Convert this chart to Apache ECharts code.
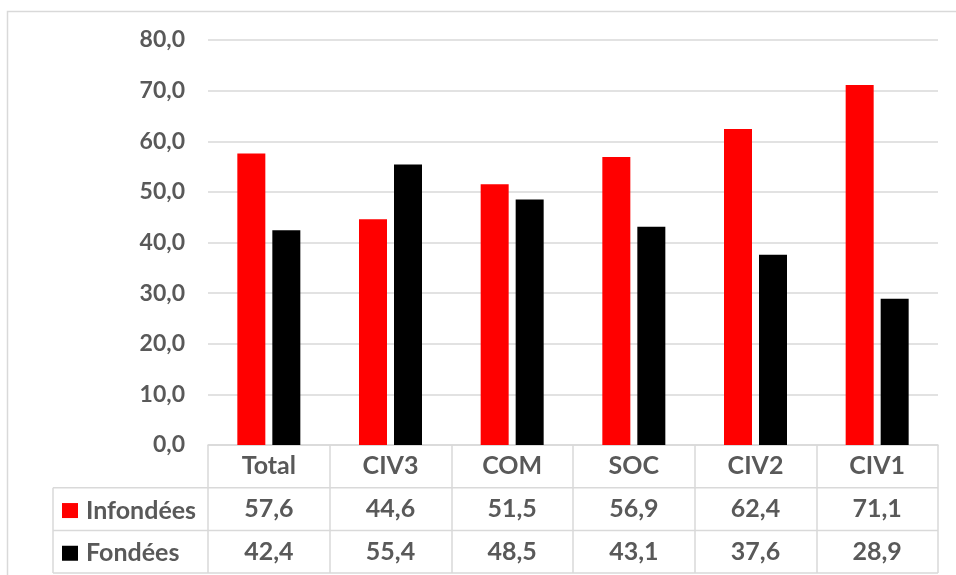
<!DOCTYPE html>
<html>
<head>
<meta charset="utf-8">
<script src="https://cdn.jsdelivr.net/npm/echarts@6/dist/echarts.min.js"></script>
<style>
  html, body { margin: 0; padding: 0; background: #fff; }
  #chart { width: 956px; height: 575px; }
</style>
</head>
<body>
<div id="chart"></div>
<script>
var categories = ['Total', 'CIV3', 'COM', 'SOC', 'CIV2', 'CIV1'];
var infondees = [57.6, 44.6, 51.5, 56.9, 62.4, 71.1];
var fondees = [42.4, 55.4, 48.5, 43.1, 37.6, 28.9];
var yTicks = [0, 10, 20, 30, 40, 50, 60, 70, 80];

var font = 'Lato, "Open Sans", sans-serif';
var textColor = '#595959';
var lineColor = '#d9d9d9';

// plot box, table sits under it
var gridLeft = 208, gridRight = 18, gridTop = 40, gridBottom = 130;
var rowH = 42.7;
var tableLeft = 53;

function fmt(v) {
    return v.toFixed(1).replace('.', ',');
}

var chart = echarts.init(document.getElementById('chart'));

var W = 956, H = 575;
var axisY = H - gridBottom;
var tableRight = W - gridRight;

var graphics = [
    {
        type: 'rect',
        shape: { x: 7.5, y: 11.5, width: 1000, height: 700 },
        style: { fill: 'none', stroke: lineColor, lineWidth: 1.5 },
        silent: true, z: -1
    }
];
for (var r = 1; r <= 3; r++) {
    graphics.push({
        type: 'line',
        shape: { x1: tableLeft, y1: axisY + r * rowH, x2: tableRight, y2: axisY + r * rowH },
        style: { stroke: lineColor, lineWidth: 1.5 },
        silent: true
    });
}
graphics.push({
    type: 'line',
    shape: { x1: tableLeft, y1: axisY + rowH, x2: tableLeft, y2: axisY + 3 * rowH },
    style: { stroke: lineColor, lineWidth: 1.5 },
    silent: true
});

var legendText = { color: textColor, fontFamily: font, fontWeight: 'bold', fontSize: 25, padding: [0, 0, 0, 3] };

var option = {
    animation: false,
    textStyle: { fontFamily: font },
    grid: { left: gridLeft, right: gridRight, top: gridTop, bottom: gridBottom },
    legend: [
        {
            data: ['Infondées'], left: 57, top: axisY + rowH * 1.5 - 16,
            icon: 'rect', itemWidth: 16, itemHeight: 15, textStyle: legendText,
            selectedMode: false
        },
        {
            data: ['Fondées'], left: 57, top: axisY + rowH * 2.5 - 16,
            icon: 'rect', itemWidth: 16, itemHeight: 15, textStyle: legendText,
            selectedMode: false
        }
    ],
    xAxis: {
        type: 'category',
        data: categories,
        axisLine: { lineStyle: { color: lineColor, width: 1.5 } },
        axisTick: { show: true, length: 3 * rowH, interval: 0, lineStyle: { color: lineColor, width: 1.5 } },
        axisLabel: {
            interval: 0,
            margin: 0,
            formatter: function (value, idx) {
                return '{v|' + value + '}\n{v|' + fmt(infondees[idx]) + '}\n{v|' + fmt(fondees[idx]) + '}';
            },
            rich: {
                v: { color: textColor, fontFamily: font, fontWeight: 'bold', fontSize: 25, lineHeight: rowH }
            }
        }
    },
    yAxis: {
        type: 'value',
        min: yTicks[0],
        max: yTicks[yTicks.length - 1],
        interval: 10,
        axisLine: { show: false },
        axisTick: { show: false },
        axisLabel: {
            margin: 23,
            color: textColor, fontFamily: font, fontWeight: 'bold', fontSize: 23,
            formatter: function (v) { return fmt(v); }
        },
        splitLine: { lineStyle: { color: lineColor, width: 1.5 } }
    },
    series: [
        {
            name: 'Infondées', type: 'bar', data: infondees,
            barWidth: 28, barGap: '25%',
            itemStyle: { color: '#ff0000' }
        },
        {
            name: 'Fondées', type: 'bar', data: fondees,
            barWidth: 28,
            itemStyle: { color: '#000000' }
        }
    ],
    graphic: graphics
};

chart.setOption(option);
</script>
</body>
</html>
